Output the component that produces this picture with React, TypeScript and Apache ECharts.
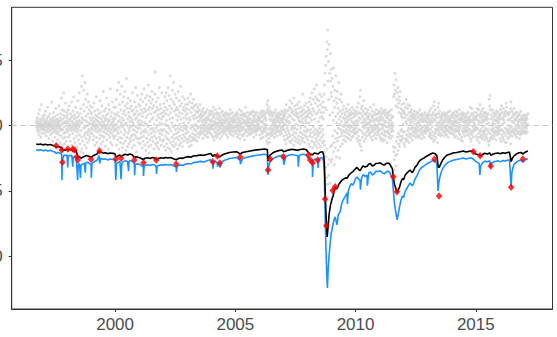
import React, { useEffect, useRef } from "react";
import * as echarts from "echarts";

// Daily returns (units of 0.001) shown as grey points, one list per calendar year
const r1996 = [2,-1,4,0,-3,6,1,-5,3,-2,9,-7,1,0,12,-4,2,-1,5,-9,3,0,-2,16,1,-6,4,-1,7,-3];
const r1997 = [1,-3,5,0,-2,8,2,-6,3,-1,11,-4,0,2,-8,4,-1,6,-3,1,14,-5,2,-2,7,0,-10,3,1,-4,9,-1,5,-7,0,2,-3,18,-6,4,-1,3,-12,6,1,-2,10,-5,0,4,-3,7,-9,2,-1,13,-4,3,0,-6,5,-2,8,-11,1,4,-5,2,-1,15,-7,3,0,-3,6,-13,9,-2,4,-8,21,-4,1,12,-15,5,-3,8,-10,2,25,-6,11,-1,-14,7,3,-9,17,-5,2,-12,6,-3,10];
const r1998 = [3,-5,8,-1,12,2,-9,5,-3,15,0,-7,4,1,-12,9,-2,6,-4,18,-1,3,-15,7,0,-6,11,-3,2,22,-10,5,-1,8,-13,1,-4,14,-2,6,-8,3,0,-16,10,-5,2,19,-3,7,-11,4,-1,25,-7,1,-14,9,-20,3,13,-4,30,-9,6,-18,2,38,-12,5,-21,16,-2,27,-8,11,-15,4,33,-6,-1,20,-10,7,-17,3,14,-5,24,-13,0,9,-7,18,-3,2,-11,12,-4,6,-9,15,1,-6,10];
const r1999 = [4,-2,9,-6,1,14,-3,6,-11,2,0,-8,17,3,-1,11,-15,5,-4,8,-2,1,22,-9,4,-13,7,0,-5,12,-1,3,-17,9,-3,6,-10,2,19,-7,1,-4,10,-14,5,0,-2,15,-8,3,-1,7,-12,26,-5,2,-9,11,0,-3,6,-16,4,-1,13,-6,8,-2,21,-11,1,5,-4,9,-18,3,-7,16,0,-2,12,-9,4,-5,28,-13,7,1,-3,10,-6,2,-15,18,-1,5,-8,3,14,-4,-10,6,-2,9,1];
const r2000 = [5,-8,14,-3,20,1,-15,8,-4,27,-1,-11,10,-6,3,33,-18,7,-2,16,-9,4,24,-13,0,12,-5,2,30,-10,6,-17,18,-1,9,-14,4,22,-7,11,-3,1,26,-12,15,-5,8,-19,2,36,-9,13,0,17,-16,5,21,-6,10,-14,-2,7,-4,13,-10,3,19,-12,6,-1,15,-8,11,-17,4,25,-7,2,-3,12,-11,8,0,-15,18,-4,9,-7,5,29,-9,14,-1,6,-20,11,-5,23,-10,3,-2,8,-13,16,1];
const r2001 = [4,-10,15,-2,9,-14,20,1,-6,12,-9,24,3,-17,7,-4,18,-12,10,0,-8,28,-5,13,-15,2,21,-3,11,-19,6,16,-10,1,-5,23,-13,8,-1,31,-16,12,-7,19,-21,14,3,-11,22,-3,9,-15,17,-6,5,26,-9,13,-2,20,-12,6,-4,15,-18,10,1,-8,24,-5,41,-14,11,-2,18,-10,4,-16,14,0,8,-13,21,-4,12,-18,6,29,-9,2,-6,16,-11,9,-3,13,-15,5,25,-7,1,-4,10,-12,7];
const r2002 = [7,-11,17,-3,11,-16,22,1,-8,14,-19,9,25,-5,4,-14,19,-10,12,0,-17,29,-6,8,-11,23,-2,15,-18,5,38,-13,10,-4,20,-20,13,2,-9,27,-15,6,-1,18,-12,33,-7,11,-16,16,0,-10,24,-3,12,-14,8,21,-6,14,-9,4,-18,12,-2,26,-11,7,-5,19,-15,10,1,-8,15,-3,30,-13,5,-1,17,-10,9,-16,22,-4,12,-7,2,14,-12,6,-2,20,-9,11,0,16,-6,8,-3,13,-11,5,-1];
const r2003 = [9,-13,16,-5,21,2,-10,12,-16,6,18,-8,4,-12,24,-2,10,-15,14,0,-9,17,-6,7,-11,13,-1,20,-10,5,-3,15,-7,8,1,-11,11,-4,16,-8,6,0,-12,10,-2,14,-6,3,11,-9,7,-1,12,-5,4,16,-7,8,-2,6,-4,9,0,11,-6,3,7,-10,4,-2,13,-5,1,8,-3,10,-7,5,-1,3,-8,10,2,-4,6,-2,12,-6,4,0,-9,7,-2,5,-5,9,1,-3,11,-2,4,-6,8,-1,3];
const r2004 = [4,-7,9,-2,11,1,-9,6,-3,14,0,7,-11,3,9,-5,2,-8,12,-2,5,0,-6,8,-9,2,10,-4,1,-7,6,-1,9,-3,4,13,-6,2,-10,7,-2,3,-5,10,0,5,-8,2,11,-4,1,-3,8,-6,4,-1,7,-3,2,9,-5,3,6,-2,10,-7,0,4,-3,8,-1,5,-9,2,-4,9,-2,3,7,-6,1,-2,12,-4,5,0,9,-7,3,-3,6,-1,10,-5,2,4,-8,7,-2,3,-1,5,-4,8,0];
const r2005 = [3,-6,8,-1,10,-4,2,7,-9,5,-2,9,0,-7,4,-3,12,-5,2,6,-10,3,-1,8,-4,1,11,-7,5,-2,8,-3,2,-8,9,-1,4,7,-6,2,-11,9,-3,3,14,-5,1,-4,7,0,5,-8,3,10,-4,2,-2,6,-6,4,-1,8,-3,2,-7,10,0,-4,5,-2,9,-6,1,3,-3,11,-5,2,0,7,-9,4,-1,6,-4,10,-2,3,-5,8,0,-7,4,-3,10,-4,2,5,-1,7,-3,1,6,-2,4];
const r2006 = [4,-7,9,-2,6,-10,3,11,-4,7,-1,10,-6,3,8,-9,2,-5,11,-3,5,-2,7,0,9,-4,1,6,-8,4,-2,10,-12,16,-6,12,-14,19,-7,10,-10,14,-3,8,-13,5,-6,11,-2,9,-8,4,0,-5,7,-3,10,-7,3,1,-4,8,-2,5,-9,10,2,-6,4,-1,12,-5,2,7,-3,6,-8,9,-2,4,-1,7,-5,3,10,-4,6,0,8,-7,2,5,-4,9,-2,3,-6,11,-1,4,-3,6,-1,8,2];
const r2007 = [5,-8,10,-3,7,-11,12,1,-5,9,-14,4,16,-7,3,-2,11,-10,6,0,-4,12,-9,3,8,-6,14,-12,2,19,-8,7,-13,13,-3,10,-1,17,-11,5,-7,11,-2,9,-15,21,-5,4,-9,15,-2,8,-12,12,1,-6,10,-10,7,16,-3,9,-13,6,0,13,-8,4,18,-11,3,-5,10,-14,7,-2,14,-9,3,11,-6,8,-12,5,24,-10,2,12,-7,9,-4,15,-13,6,-1,10,-8,4,17,-5,2,-9,7,-3,11];
const r2008 = [7,-11,14,-4,9,-14,18,2,-8,12,-16,6,21,-6,10,-3,16,-12,4,25,-9,8,-17,13,-5,20,-1,11,-13,28,-7,5,-15,17,-3,22,-10,9,-6,31,-12,20,-17,10,-4,15,-8,3,-14,19,-6,12,-2,24,-11,6,-16,16,-5,10,0,22,-9,7,-13,14,-3,18,-7,5,10,-12,24,-15,31,-20,40,14,-32,46,-24,53,12,-40,64,-18,58,-45,73,34,-30,49,20,-38,62,-26,40,8,-44,55,-16,34,-28,25,43];
const r2009 = [22,-15,36,-26,10,-8,30,-20,4,44,-13,19,-30,14,-4,27,-17,7,38,-10,21,-24,2,17,-6,26,-12,9,-19,13,-2,33,-9,5,20,-25,1,11,-16,7,-3,24,-8,3,18,-6,9,-14,0,12,-4,6,-11,15,-1,5,-8,10,1,-5,8,-12,3,13,-3,6,-9,2,11,-6,4,-1,16,-10,7,-4,9,0,-7,12,-2,5,-11,8,0,10,-5,3,-9,14,-1,6,-4,9,-8,2,12,-3,1,-6,7,-2,10,-5,3];
const r2010 = [8,-6,11,-2,4,-10,14,1,-5,9,-12,3,17,-8,6,-3,10,-14,22,-11,5,27,-16,9,-4,13,-19,2,15,-9,7,-1,11,-6,3,19,-12,5,-2,9,-7,1,13,-10,4,0,8,-5,2,10,-8,6,-2,12,-4,1,7,-3,5,-7,2,9,-6,3,-1,14,-9,4,0,-5,7,-3,11,-11,6,-1,8,-4,3,16,-8,4,-2,10,-6,1,8,-3,5,-10,12,-1,4,-7,9,0,-5,6,-2,9,-4,3,-7,11,1];
const r2011 = [5,-9,10,-3,7,-11,4,13,-6,1,-10,9,-2,6,-12,11,0,-7,4,-4,10,-11,2,8,-5,12,-8,3,-1,9,-5,6,-13,10,-1,7,-4,9,-6,2,-9,5,0,11,-7,4,-2,8,-10,4,1,-5,12,-3,6,-8,2,-1,7,-4,-16,22,-20,31,-26,24,-34,40,-17,27,-23,15,-31,35,-12,20,-22,25,-9,14,-19,29,-6,17,-14,10,22,-16,19,-8,26,-11,13,-4,9,-12,7,-3,16,-8,12,-10,6,1,-5,10];
const r2012 = [11,-14,17,-5,9,-16,6,14,-10,3,-12,20,-7,8,1,-11,13,-4,16,-8,5,-2,10,-13,4,15,-6,7,-9,2,10,-3,12,-7,5,-1,8,-11,3,7,-5,9,-2,6,-8,1,11,-4,5,-6,8,-2,4,-9,7,0,-3,10,-5,2,-7,10,-1,6,-9,3,8,-4,2,-8,12,-3,5,0,8,-6,4,-10,7,-2,9,-4,3,-7,5,-1,8,-5,3,-9,6,0,-4,10,-3,4,-6,8,-2,3,-1,6,-4,2,7];
const r2013 = [7,-4,9,-2,5,-8,3,11,-6,1,-9,8,-3,4,13,-7,2,-10,6,-1,8,-5,3,10,-8,15,-12,5,18,-11,8,-6,12,-3,4,-9,7,0,-5,9,-3,2,-13,6,14,-2,17,-7,9,-4,2,11,-6,3,-1,7,-8,5,1,-3,6,-7,9,-2,4,0,8,-5,2,10,-4,3,-8,7,-1,5,-6,9,-2,3,-4,8,0,-7,6,-3,10,-4,4,-9,2,7,-1,5,-5,11,-2,3,-6,4,-1,6,-3,8,1];
const r2014 = [3,-6,7,-2,9,-4,1,10,-7,3,0,6,-9,4,-3,8,-5,2,11,-8,3,-1,7,-4,10,-3,5,-10,2,8,-4,0,-6,12,-2,4,-7,6,0,9,-11,3,5,-9,7,-4,10,-12,5,-2,8,-6,3,9,-5,2,-8,6,-3,4,-1,7,-4,3,9,-5,1,-7,4,-2,10,-4,6,0,3,-8,5,-3,2,7,-6,14,-10,4,-12,9,-4,13,-7,3,-5,8,-1,6,-9,4,10,-4,2,-3,1,5,-2,7,-1];
const r2015 = [5,-8,10,-3,7,-11,13,-2,4,-9,8,1,-6,12,-13,3,8,-4,16,-9,6,-3,9,-7,2,11,-5,4,-10,7,-1,13,-8,3,-4,9,-6,5,-11,10,-4,7,-2,10,-9,4,-7,6,1,-10,8,-3,5,-12,9,-5,2,-15,20,-12,15,-6,23,-10,12,-3,5,-9,8,0,-7,12,-4,2,-10,6,-2,10,-5,4,-8,7,1,-6,9,-4,4,-11,8,-1,11,-5,3,-7,6,-2,10,-4,4,-3,2,-6,8,-1,5];
const r2016 = [7,-10,12,-4,9,-12,15,-3,5,-7,10,1,-9,6,-4,13,-11,4,8,-6,2,10,-13,7,-2,11,-8,17,-13,14,-5,9,-3,4,-10,10,0,-6,8,-4,5,-9,10,-2,4,-7,13,-14,18,-5,6,-1,11,-4,3,-8,7,-3,9,-5,2,13,-6,4,-4,8,-2,5,-7,10,0,4,-9,6,-3,10,-5,1,7,-6,3,-1,8,-5,4,-10,9,-2,4,-7,5,11,-4,2,-6,7,0,5,-4,6,-2,4,-6,8,1];
const r2017 = [3,-5,6,-1,8,-4,2,5,-6,4,-2,7,0,5,-5,1,9];

// [first date, last date, returns] for each year's block of grey points
const grayBlocks: [number, number, number[]][] = [
  [1996.72, 1997, r1996], [1997, 1998, r1997], [1998, 1999, r1998], [1999, 2000, r1999],
  [2000, 2001, r2000], [2001, 2002, r2001], [2002, 2003, r2002], [2003, 2004, r2003],
  [2004, 2005, r2004], [2005, 2006, r2005], [2006, 2007, r2006], [2007, 2008, r2007],
  [2008, 2009, r2008], [2009, 2010, r2009], [2010, 2011, r2010], [2011, 2012, r2011],
  [2012, 2013, r2012], [2013, 2014, r2013], [2014, 2015, r2014], [2015, 2016, r2015],
  [2016, 2017, r2016], [2017, 2017.17, r2017],
];

// Value-at-Risk (black), [decimal year, value in 0.001]
const varPoints = [
[1996.72,-14.1],[1996.80,-14.5],[1996.90,-14.1],[1997.00,-14.8],[1997.10,-14.3],[1997.20,-14.9],[1997.30,-14.5],[1997.42,-15.2],[1997.50,-15.7],[1997.55,-16.4],[1997.62,-16.0],[1997.70,-16.4],[1997.78,-17.0],[1997.80,-19.0],[1997.88,-18.5],[1997.95,-18.9],[1998.00,-18.2],[1998.05,-18.8],[1998.12,-18.3],[1998.20,-18.6],[1998.25,-19.4],[1998.32,-19.8],[1998.38,-19.3],[1998.42,-22.0],[1998.46,-24.5],[1998.52,-24.0],[1998.58,-25.0],[1998.65,-24.2],[1998.72,-23.6],[1998.80,-23.0],[1998.90,-23.5],[1999.00,-24.5],[1999.08,-23.2],[1999.15,-22.5],[1999.25,-21.8],[1999.33,-19.5],[1999.40,-20.5],[1999.50,-21.0],[1999.60,-20.8],[1999.70,-21.5],[1999.80,-21.0],[1999.92,-21.3],[2000.00,-21.8],[2000.03,-24.1],[2000.10,-23.5],[2000.20,-22.5],[2000.25,-24.0],[2000.32,-22.8],[2000.42,-22.0],[2000.52,-22.6],[2000.62,-21.8],[2000.72,-22.5],[2000.80,-24.5],[2000.88,-23.8],[2000.96,-24.3],[2001.05,-24.8],[2001.17,-26.0],[2001.25,-25.0],[2001.35,-24.6],[2001.45,-25.2],[2001.55,-24.4],[2001.65,-24.9],[2001.71,-26.0],[2001.80,-25.2],[2001.90,-24.6],[2002.00,-25.0],[2002.10,-24.4],[2002.20,-24.9],[2002.30,-24.5],[2002.40,-25.2],[2002.54,-26.2],[2002.62,-25.3],[2002.72,-24.8],[2002.82,-25.1],[2002.92,-24.2],[2003.05,-23.8],[2003.15,-24.2],[2003.25,-23.3],[2003.40,-23.0],[2003.55,-22.5],[2003.70,-22.8],[2003.85,-22.0],[2003.98,-21.4],[2004.06,-23.5],[2004.15,-22.2],[2004.25,-23.6],[2004.35,-24.0],[2004.45,-22.6],[2004.55,-21.8],[2004.65,-21.2],[2004.75,-20.6],[2004.90,-20.3],[2005.05,-20.0],[2005.20,-21.8],[2005.30,-20.6],[2005.45,-20.0],[2005.60,-19.5],[2005.75,-19.0],[2005.90,-18.6],[2006.05,-18.3],[2006.20,-18.0],[2006.33,-18.4],[2006.36,-27.0],[2006.40,-24.0],[2006.45,-22.6],[2006.55,-21.0],[2006.65,-20.0],[2006.80,-19.2],[2006.95,-18.7],[2007.00,-20.0],[2007.10,-19.4],[2007.20,-18.8],[2007.35,-18.2],[2007.50,-18.6],[2007.60,-19.0],[2007.70,-18.3],[2007.85,-18.0],[2007.95,-18.6],[2008.03,-20.5],[2008.10,-21.5],[2008.20,-22.5],[2008.30,-21.0],[2008.43,-21.8],[2008.52,-20.5],[2008.62,-20.0],[2008.67,-22.0],[2008.70,-28.0],[2008.73,-45.5],[2008.77,-68.0],[2008.82,-85.2],[2008.86,-77.0],[2008.90,-68.0],[2008.96,-60.5],[2009.04,-55.0],[2009.07,-54.0],[2009.10,-50.0],[2009.15,-47.0],[2009.20,-48.5],[2009.24,-48.0],[2009.30,-45.0],[2009.36,-43.5],[2009.42,-42.0],[2009.50,-41.0],[2009.60,-39.8],[2009.65,-40.5],[2009.72,-38.0],[2009.80,-36.5],[2009.90,-35.0],[2010.00,-33.0],[2010.06,-32.0],[2010.12,-33.5],[2010.19,-34.5],[2010.25,-32.5],[2010.32,-30.8],[2010.40,-31.8],[2010.48,-31.2],[2010.55,-29.5],[2010.62,-29.0],[2010.70,-31.0],[2010.76,-30.5],[2010.85,-29.0],[2010.95,-28.8],[2011.02,-28.5],[2011.10,-29.6],[2011.19,-30.2],[2011.28,-29.0],[2011.35,-28.6],[2011.42,-29.4],[2011.48,-31.5],[2011.53,-33.0],[2011.57,-39.5],[2011.62,-45.0],[2011.67,-48.0],[2011.73,-51.5],[2011.78,-49.0],[2011.83,-47.0],[2011.89,-43.0],[2011.95,-40.5],[2012.00,-41.5],[2012.05,-38.5],[2012.10,-37.0],[2012.18,-35.5],[2012.27,-34.0],[2012.35,-36.0],[2012.40,-35.0],[2012.47,-32.0],[2012.55,-30.5],[2012.62,-28.0],[2012.70,-26.4],[2012.78,-25.5],[2012.85,-24.8],[2012.95,-23.5],[2013.05,-22.5],[2013.12,-21.8],[2013.22,-21.0],[2013.30,-21.5],[2013.38,-23.0],[2013.44,-31.7],[2013.48,-32.0],[2013.55,-29.0],[2013.62,-26.4],[2013.72,-24.0],[2013.82,-22.5],[2013.95,-21.8],[2014.05,-21.0],[2014.20,-20.6],[2014.35,-20.0],[2014.48,-19.5],[2014.60,-20.3],[2014.70,-19.8],[2014.82,-19.5],[2014.90,-20.3],[2014.97,-21.6],[2015.05,-22.0],[2015.14,-22.4],[2015.20,-23.3],[2015.28,-22.2],[2015.38,-21.2],[2015.48,-21.8],[2015.58,-21.0],[2015.63,-22.8],[2015.70,-22.0],[2015.80,-21.4],[2015.92,-21.0],[2016.02,-21.6],[2016.12,-20.8],[2016.22,-21.2],[2016.32,-20.6],[2016.40,-20.3],[2016.47,-27.5],[2016.52,-25.0],[2016.60,-23.0],[2016.70,-21.6],[2016.80,-20.8],[2016.90,-20.6],[2016.96,-21.8],[2017.05,-20.4],[2017.12,-19.8],[2017.17,-19.5]
];

// Expected shortfall (blue), [decimal year, value in 0.001]
const esPoints = [
[1996.72,-18.7],[1996.80,-19.0],[1996.90,-18.6],[1997.00,-19.3],[1997.10,-18.8],[1997.20,-19.5],[1997.30,-19.0],[1997.42,-19.8],[1997.50,-20.3],[1997.55,-21.5],[1997.62,-20.6],[1997.70,-21.0],[1997.78,-22.0],[1997.79,-41.7],[1997.81,-26.0],[1997.88,-22.5],[1997.95,-23.0],[1998.00,-22.4],[1998.03,-32.0],[1998.05,-23.5],[1998.12,-22.8],[1998.20,-23.0],[1998.24,-31.5],[1998.26,-24.0],[1998.32,-24.5],[1998.38,-24.0],[1998.42,-35.0],[1998.44,-41.7],[1998.47,-30.0],[1998.52,-29.0],[1998.56,-40.0],[1998.58,-30.5],[1998.65,-29.5],[1998.72,-28.8],[1998.76,-36.0],[1998.78,-28.5],[1998.85,-28.0],[1998.90,-28.6],[1999.00,-30.0],[1999.01,-40.0],[1999.04,-28.8],[1999.15,-27.5],[1999.25,-26.6],[1999.33,-23.0],[1999.36,-29.0],[1999.40,-25.0],[1999.50,-25.8],[1999.60,-25.5],[1999.70,-26.4],[1999.80,-25.6],[1999.92,-26.0],[2000.00,-26.5],[2000.03,-41.7],[2000.06,-29.0],[2000.10,-28.5],[2000.20,-27.5],[2000.25,-41.0],[2000.28,-29.0],[2000.32,-27.8],[2000.42,-27.0],[2000.52,-27.6],[2000.56,-35.0],[2000.58,-27.5],[2000.62,-26.8],[2000.72,-27.5],[2000.80,-29.0],[2000.81,-38.0],[2000.84,-29.5],[2000.96,-29.5],[2001.05,-30.0],[2001.17,-31.5],[2001.18,-38.5],[2001.21,-31.0],[2001.35,-30.0],[2001.45,-30.6],[2001.55,-29.8],[2001.65,-30.2],[2001.71,-31.5],[2001.72,-37.0],[2001.75,-31.0],[2001.90,-30.0],[2002.00,-30.4],[2002.10,-29.8],[2002.20,-30.2],[2002.30,-29.8],[2002.40,-30.5],[2002.54,-31.7],[2002.55,-35.5],[2002.58,-31.0],[2002.72,-30.2],[2002.82,-30.5],[2002.92,-29.6],[2003.05,-29.0],[2003.15,-29.5],[2003.25,-28.4],[2003.40,-28.0],[2003.55,-27.4],[2003.70,-27.8],[2003.85,-26.8],[2003.98,-26.2],[2004.06,-28.5],[2004.07,-33.0],[2004.10,-27.5],[2004.15,-27.0],[2004.25,-28.6],[2004.26,-31.5],[2004.30,-28.0],[2004.35,-29.2],[2004.36,-32.0],[2004.45,-27.6],[2004.55,-26.6],[2004.65,-26.0],[2004.75,-25.2],[2004.90,-24.8],[2005.05,-24.4],[2005.20,-26.6],[2005.21,-29.5],[2005.30,-25.2],[2005.45,-24.4],[2005.60,-23.8],[2005.75,-23.2],[2005.90,-22.7],[2006.05,-22.3],[2006.20,-22.0],[2006.33,-22.5],[2006.36,-37.8],[2006.39,-31.0],[2006.45,-27.6],[2006.55,-25.6],[2006.65,-24.4],[2006.80,-23.4],[2006.95,-22.8],[2007.00,-24.4],[2007.01,-30.0],[2007.10,-23.7],[2007.20,-23.0],[2007.35,-22.2],[2007.50,-22.7],[2007.60,-23.0],[2007.62,-31.5],[2007.65,-23.4],[2007.70,-22.4],[2007.85,-22.0],[2007.95,-22.7],[2008.03,-25.0],[2008.10,-26.2],[2008.20,-27.5],[2008.21,-39.4],[2008.24,-27.0],[2008.30,-25.6],[2008.43,-26.6],[2008.44,-32.5],[2008.47,-26.0],[2008.52,-25.0],[2008.62,-24.4],[2008.67,-27.0],[2008.70,-34.0],[2008.73,-64.0],[2008.77,-95.0],[2008.80,-113.0],[2008.83,-124.2],[2008.86,-110.0],[2008.90,-99.0],[2008.94,-91.0],[2008.98,-83.0],[2009.04,-77.6],[2009.10,-72.2],[2009.15,-70.0],[2009.23,-76.0],[2009.28,-68.0],[2009.36,-66.0],[2009.42,-60.0],[2009.48,-57.0],[2009.56,-54.5],[2009.65,-51.6],[2009.66,-60.0],[2009.70,-50.0],[2009.77,-46.0],[2009.82,-44.5],[2009.90,-45.5],[2010.00,-40.5],[2010.06,-39.4],[2010.12,-41.0],[2010.19,-42.0],[2010.20,-49.0],[2010.25,-40.0],[2010.32,-37.5],[2010.40,-39.0],[2010.48,-38.0],[2010.49,-46.0],[2010.55,-36.3],[2010.62,-35.5],[2010.70,-38.0],[2010.76,-37.0],[2010.85,-35.0],[2010.95,-35.2],[2011.02,-34.5],[2011.10,-36.0],[2011.19,-37.0],[2011.28,-35.5],[2011.35,-34.8],[2011.42,-35.8],[2011.48,-38.5],[2011.53,-40.5],[2011.57,-49.3],[2011.62,-60.0],[2011.67,-66.0],[2011.73,-72.2],[2011.78,-67.0],[2011.83,-62.0],[2011.89,-57.0],[2011.95,-54.0],[2012.00,-55.0],[2012.05,-51.0],[2012.10,-49.3],[2012.18,-46.5],[2012.27,-44.0],[2012.35,-46.0],[2012.40,-45.0],[2012.47,-41.0],[2012.55,-38.5],[2012.62,-35.5],[2012.70,-33.0],[2012.78,-31.7],[2012.85,-30.8],[2012.95,-29.5],[2013.05,-28.5],[2013.12,-27.8],[2013.22,-26.6],[2013.30,-27.2],[2013.38,-29.0],[2013.43,-50.0],[2013.46,-44.0],[2013.50,-40.0],[2013.55,-36.3],[2013.62,-33.0],[2013.72,-30.2],[2013.82,-28.5],[2013.95,-27.4],[2014.05,-26.6],[2014.20,-26.0],[2014.35,-25.4],[2014.48,-24.8],[2014.60,-25.6],[2014.70,-25.0],[2014.82,-24.8],[2014.90,-25.8],[2014.97,-27.0],[2015.05,-28.0],[2015.14,-29.0],[2015.17,-37.8],[2015.20,-31.0],[2015.28,-28.5],[2015.38,-27.2],[2015.48,-27.8],[2015.58,-27.0],[2015.62,-32.5],[2015.65,-29.0],[2015.70,-28.2],[2015.80,-27.5],[2015.92,-27.0],[2016.02,-27.8],[2016.12,-26.8],[2016.22,-27.2],[2016.32,-26.5],[2016.40,-26.2],[2016.47,-47.0],[2016.50,-36.0],[2016.55,-32.0],[2016.60,-29.5],[2016.70,-27.8],[2016.80,-26.8],[2016.90,-26.6],[2016.96,-28.0],[2017.05,-26.4],[2017.12,-25.6],[2017.17,-25.6]
];

// VaR violations (red diamonds): dates and returns in 0.001
const violationDates = [1997.55,1997.78,1997.81,1998.03,1998.24,1998.31,1998.41,1998.45,1999.00,1999.35,2000.03,2000.25,2000.80,2001.18,2001.71,2002.54,2004.06,2004.25,2004.35,2005.20,2006.36,2006.45,2007.00,2008.04,2008.11,2008.21,2008.43,2008.73,2008.78,2009.05,2009.15,2011.57,2011.72,2013.28,2013.47,2014.90,2015.18,2015.62,2016.47,2016.96];
const violationValues = [-15.4,-18.7,-28.1,-18.0,-18.0,-18.7,-23.9,-26.4,-25.8,-19.5,-25.6,-25.1,-26.4,-28.4,-26.4,-29.4,-27.7,-23.3,-28.7,-24.1,-34.0,-25.6,-23.9,-22.6,-26.4,-28.4,-26.4,-56.2,-76.6,-49.7,-46.8,-39.1,-50.6,-25.8,-53.9,-20.0,-23.1,-31.0,-47.2,-25.6];

const xTicks = [2000, 2005, 2010, 2015];
const yTicks = [-0.1, -0.05, 0, 0.05];
const X_MIN = 1995.7;
const X_MAX = 2018.19;
const Y_MIN = -0.1403;
const Y_MAX = 0.0904;

const SCALE = 1000;

function buildOption() {
  const grayData: number[][] = [];
  grayBlocks.forEach(([from, to, vals]) => {
    vals.forEach((v, i) => {
      grayData.push([from + ((i + 0.5) * (to - from)) / vals.length, v / SCALE]);
    });
  });
  const varData = varPoints.map(([t, v]) => [t, v / SCALE]);
  const esData = esPoints.map(([t, v]) => [t, v / SCALE]);
  const redData = violationDates.map((t, i) => [t, violationValues[i] / SCALE]);

  const labelStyle = {
    fontSize: 17,
    color: "#4d4d4d",
    fontFamily: "Liberation Sans, Arial, sans-serif",
  };

  return {
    animation: false,
    backgroundColor: "#ffffff",
    grid: {
      left: 11.7,
      right: 4.5,
      top: 7.3,
      bottom: 28,
      show: true,
      borderColor: "#333333",
      borderWidth: 1,
      backgroundColor: "transparent",
      containLabel: false,
      outerBoundsMode: "none",
    },
    xAxis: {
      type: "value",
      min: X_MIN,
      max: X_MAX,
      splitLine: { show: false },
      axisLine: { show: true, onZero: false, lineStyle: { color: "#333333", width: 1 } },
      axisTick: { show: true, length: 3, lineStyle: { color: "#333333" }, customValues: xTicks },
      axisLabel: { ...labelStyle, margin: 7, customValues: xTicks, formatter: (v: number) => String(v) },
    },
    yAxis: {
      type: "value",
      min: Y_MIN,
      max: Y_MAX,
      splitLine: { show: false },
      axisLine: { show: true, onZero: false, lineStyle: { color: "#333333", width: 1 } },
      axisTick: { show: true, length: 3, lineStyle: { color: "#333333" }, customValues: yTicks },
      axisLabel: { ...labelStyle, margin: 9, customValues: yTicks, formatter: (v: number) => v.toFixed(2) },
    },
    series: [
      {
        type: "line",
        data: [[X_MIN, 0], [X_MAX, 0]],
        showSymbol: false,
        symbol: "none",
        silent: true,
        lineStyle: { color: "#c4c4c4", width: 1, type: [5, 4] },
        z: 0,
      },
      {
        type: "scatter",
        data: grayData,
        symbol: "circle",
        symbolSize: 3,
        itemStyle: { color: "#d3d3d3" },
        silent: true,
        z: 1,
      },
      {
        type: "line",
        data: esData,
        showSymbol: false,
        symbol: "none",
        lineStyle: { color: "#1e90ff", width: 1.6 },
        z: 2,
      },
      {
        type: "line",
        data: varData,
        showSymbol: false,
        symbol: "none",
        lineStyle: { color: "#000000", width: 1.6 },
        z: 3,
      },
      {
        type: "scatter",
        data: redData,
        symbol: "diamond",
        symbolSize: [6.5, 7.5],
        itemStyle: { color: "#ff0000" },
        z: 4,
      },
    ],
  };
}

export default function App() {
  const ref = useRef<HTMLDivElement>(null);
  useEffect(() => {
    if (!ref.current) return;
    const chart = echarts.init(ref.current, null, { renderer: "svg" });
    chart.setOption(buildOption() as any);
    return () => chart.dispose();
  }, []);
  return (
    <div
      ref={ref}
      style={{ position: "fixed", left: 0, top: 0, width: 557, height: 337, background: "#ffffff" }}
    />
  );
}
